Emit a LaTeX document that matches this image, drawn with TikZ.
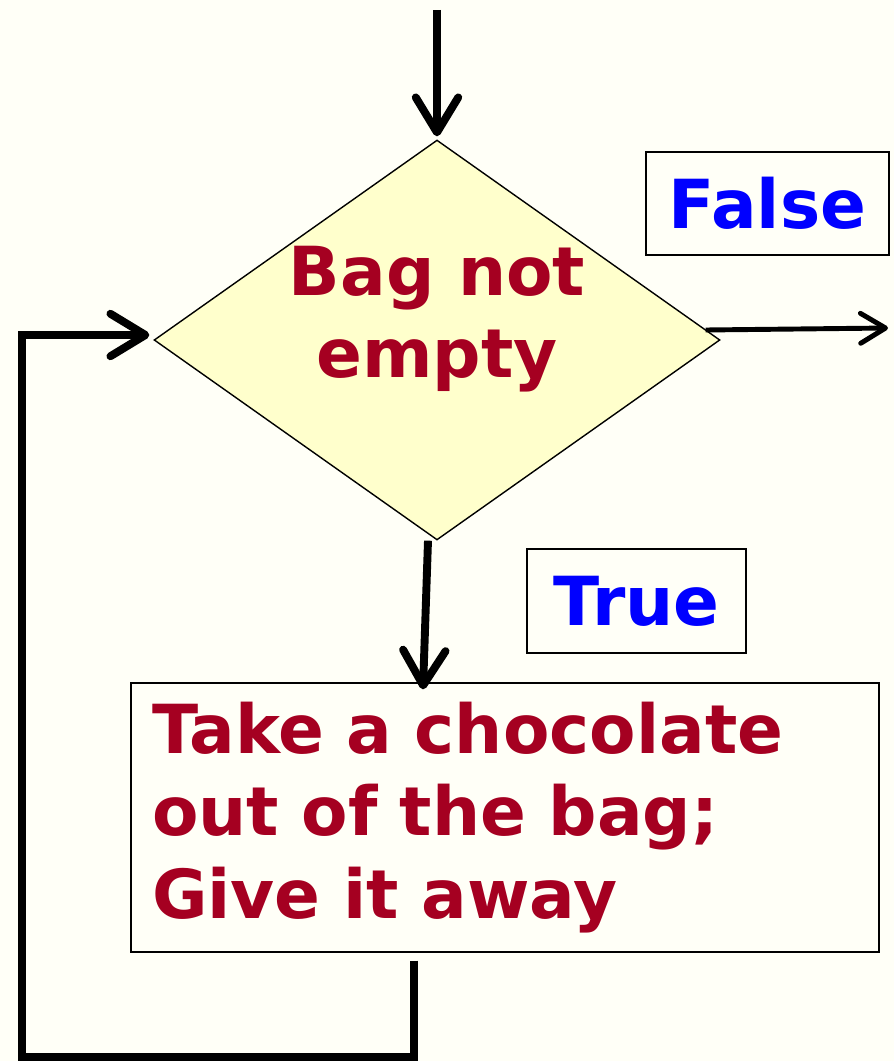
\documentclass[tikz,border=0pt]{standalone}
\usepackage{fontspec}
\setmainfont{DejaVu Sans}
\usetikzlibrary{arrows.meta,shapes.geometric,positioning,calc}
\definecolor{TextClr}{rgb}{0.647,0,0.129}
\definecolor{LabelClr}{rgb}{0,0,1}
\definecolor{FillClr}{rgb}{1,1,0.8}
\definecolor{PaperClr}{rgb}{1,1,0.97}

\begin{document}
\begin{tikzpicture}[x=0.02cm,y=-0.02cm,
  txt/.style={font=\fontsize{38.5}{47}\selectfont\bfseries},
  flow/.style={line width=4.5pt,-{Straight Barb[round,length=0.7cm,width=0.85cm]}},
  flowthin/.style={line width=2.8pt,-{Straight Barb[round,length=0.5cm,width=0.6cm]}},
  decision/.style={diamond,draw,line width=0.8pt,fill=FillClr,inner sep=0pt,aspect=1.415,
    minimum width=11.32cm,minimum height=8cm},
  testtext/.style={txt,text=TextClr,align=center,yshift=0.42cm},
  action/.style={rectangle,draw,line width=0.8pt,inner xsep=0.42cm,inner ysep=0pt,
    text width=14.12cm,minimum height=5.38cm,align=left,text=TextClr,txt},
  answer/.style={rectangle,draw,line width=0.8pt,inner sep=0pt,text=LabelClr,txt}]

\useasboundingbox[fill=PaperClr] (0,0) rectangle (894,1061);

\node[decision,label={[testtext]center:Bag not\\empty}] (test) at (437,340) {};
\node[action] (body) at (505,817.5) {Take a chocolate\\out of the bag;\\Give it away};
\node[answer,minimum width=4.86cm,minimum height=2.06cm] (false) at (767.5,203.5) {False};
\node[answer,minimum width=4.38cm,minimum height=2.08cm] (true) at (636.5,601) {True};

\coordinate (start) at (437,10);
\coordinate (exit) at (888,328);
\coordinate (corner) at (22,1057);

\draw[flow] (start) -- ($(test.north)+(0,-3)$);
\draw[flowthin] ($(test.east)+(-15,-10)$) -- (exit);
\draw[flow] ($(test.south)+(-9,0)$) -- ($(body.north)+(-82,7)$);
\draw[flow] ($(body.south)+(-91,8)$) |- (corner) |- ($(test.west)+(-4,-5)$);

\end{tikzpicture}
\end{document}
